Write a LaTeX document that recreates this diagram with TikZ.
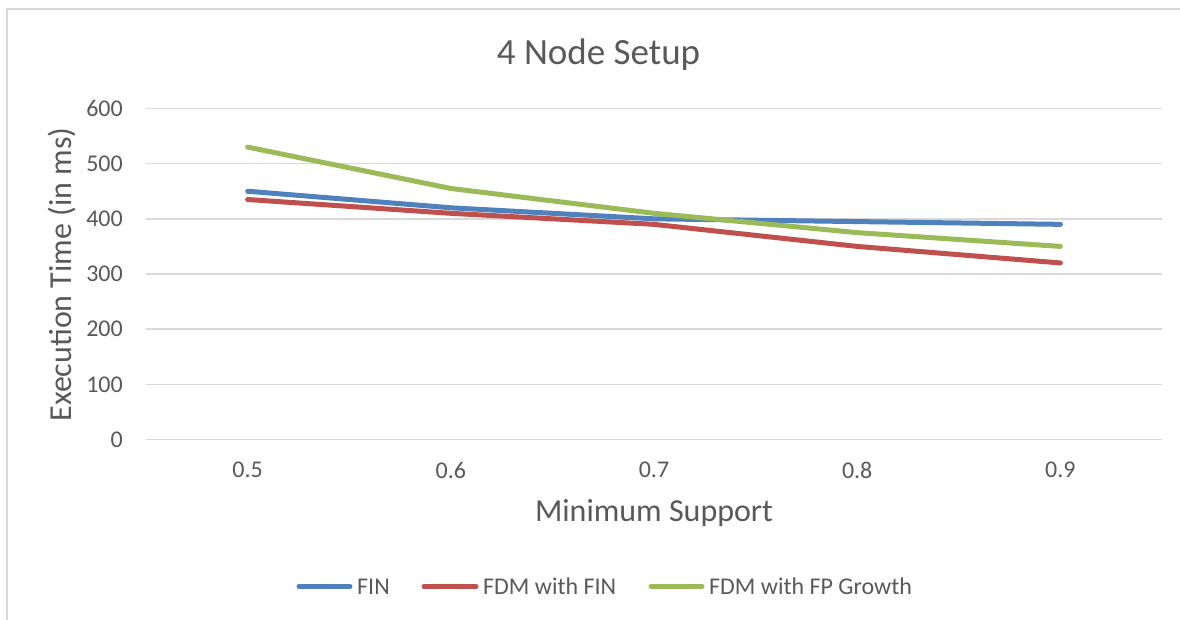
\documentclass[tikz,border=0pt]{standalone}
\usepackage{fontspec}
\setmainfont{Carlito}
\definecolor{txt}{HTML}{595959}
\definecolor{grid}{HTML}{D9D9D9}
\definecolor{sblue}{HTML}{4F81BD}
\definecolor{sred}{HTML}{C0504D}
\definecolor{sgreen}{HTML}{9BBB59}
\begin{document}
\begin{tikzpicture}[x=1pt,y=-1pt,
  gridline/.style={draw=grid,line width=1.4pt},
  serie/.style={line width=5pt,line cap=round,line join=round},
  ticklab/.style={text=txt,font=\fontsize{24}{28}\selectfont,inner sep=0pt},
  axtitle/.style={text=txt,font=\fontsize{32}{36}\selectfont,inner sep=0pt},
  legtext/.style={text=txt,font=\fontsize{24}{28}\selectfont,inner sep=0pt,anchor=west}]
\useasboundingbox (0,0) rectangle (1180,619);
\clip (0,0) rectangle (1180,619);
\fill[white] (0,0) rectangle (1180,619);
% chart border
\draw[draw=grid,line width=1.5pt] (7,640) -- (7,9) -- (1200,9);
% title
\node[text=txt,font=\fontsize{37}{40}\selectfont,inner sep=0pt] (title) at (598.5,55) {4 Node Setup};
% gridlines and y labels
\foreach \v/\n in {0/g0,100/g1,200/g2,300/g3,400/g4,500/g5,600/g6}{
  \coordinate (\n l) at (146,{439.5-0.5517*\v});
  \coordinate (\n r) at (1162,{439.5-0.5517*\v});
  \draw[gridline] (\n l) -- (\n r);
  \node[ticklab,anchor=east] (\n t) at (123,{439.5-0.5517*\v}) {\v};
}
% x labels
\foreach \x/\l/\n in {247.6/0.5/c1,450.8/0.6/c2,654/0.7/c3,857.2/0.8/c4,1060.4/0.9/c5}{
  \node[ticklab] (\n) at (\x,470) {\l};
}
% axis titles
\node[axtitle] (xtitle) at (654,513) {Minimum Support};
\node[axtitle,rotate=90] (ytitle) at (62,274.5) {Execution Time (in ms)};
% data
\foreach \s/\a/\b/\c/\d/\e in {fin/450/420/400/395/390, fdm/435/410/390/350/320, fp/530/455/410/375/350}{
  \coordinate (\s1) at (247.6,{439.5-0.5517*\a});
  \coordinate (\s2) at (450.8,{439.5-0.5517*\b});
  \coordinate (\s3) at (654,{439.5-0.5517*\c});
  \coordinate (\s4) at (857.2,{439.5-0.5517*\d});
  \coordinate (\s5) at (1060.4,{439.5-0.5517*\e});
}
\draw[serie,sblue] (fin1) -- (fin2) -- (fin3) -- (fin4) -- (fin5);
\draw[serie,sred] (fdm1) -- (fdm2) -- (fdm3) -- (fdm4) -- (fdm5);
\draw[serie,sgreen] (fp1) -- (fp2) -- (fp3) -- (fp4) -- (fp5);
% legend
\coordinate (lb1) at (299,586.5); \coordinate (lb2) at (350,586.5);
\coordinate (lr1) at (424,586.5); \coordinate (lr2) at (476,586.5);
\coordinate (lg1) at (651,586.5); \coordinate (lg2) at (702,586.5);
\draw[serie,sblue] (lb1) -- (lb2);
\draw[serie,sred] (lr1) -- (lr2);
\draw[serie,sgreen] (lg1) -- (lg2);
\node[legtext] (legfin) at (357,586.5) {FIN};
\node[legtext] (legfdm) at (483,586.5) {FDM with FIN};
\node[legtext] (legfp) at (709,586.5) {FDM with FP Growth};
\end{tikzpicture}
\end{document}
